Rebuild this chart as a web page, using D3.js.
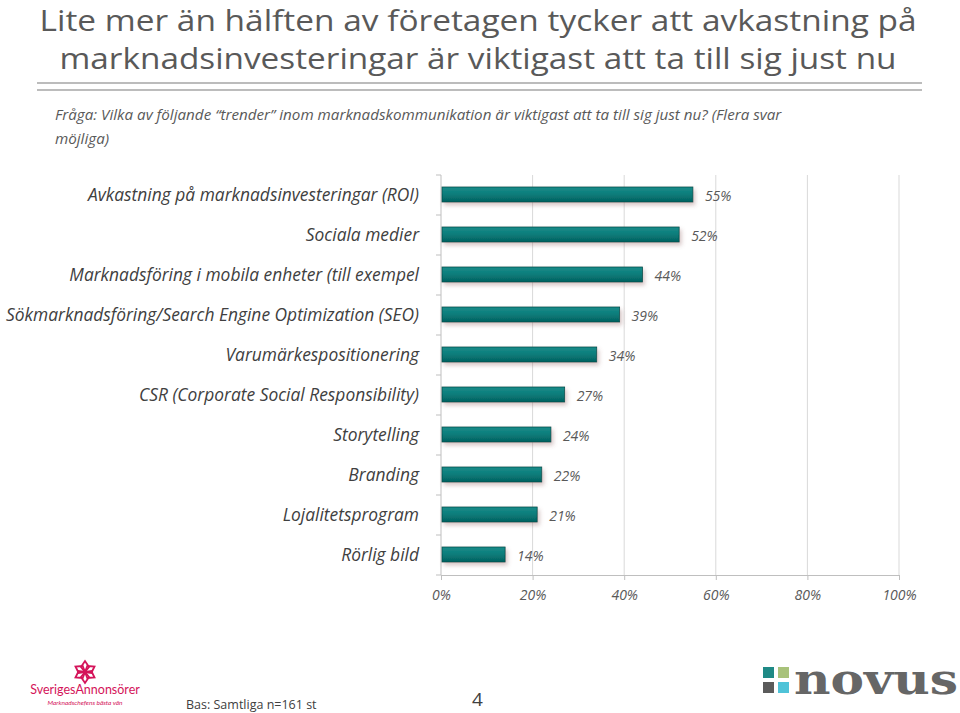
<!DOCTYPE html>
<html><head><meta charset="utf-8">
<script src="https://cdn.jsdelivr.net/npm/d3@7"></script>
<style>body{margin:0;background:#fff}svg{display:block}</style>
</head><body>
<svg id="c" width="960" height="713"></svg>
<script>
const categories = [
  "Avkastning på marknadsinvesteringar (ROI)",
  "Sociala medier",
  "Marknadsföring i mobila enheter (till exempel",
  "Sökmarknadsföring/Search Engine Optimization (SEO)",
  "Varumärkespositionering",
  "CSR (Corporate Social Responsibility)",
  "Storytelling",
  "Branding",
  "Lojalitetsprogram",
  "Rörlig bild"
];
const values = [55, 52, 44, 39, 34, 27, 24, 22, 21, 14];
const xTicks = [0, 20, 40, 60, 80, 100];
const titleLines = ["Lite mer än hälften av företagen tycker att avkastning på", "marknadsinvesteringar är viktigast att ta till sig just nu"];
const subtitleLines = ["Fråga: Vilka av följande “trender” inom marknadskommunikation är viktigast att ta till sig just nu? (Flera svar", "möjliga)"];

const svg = d3.select("#c");
const grey = "#595959";
const font = "'Open Sans', Lato, sans-serif";

// defs
const defs = svg.append("defs");
const g1 = defs.append("linearGradient").attr("id","barg").attr("x1",0).attr("y1",0).attr("x2",0).attr("y2",1);
g1.append("stop").attr("offset","0%").attr("stop-color","#1a8c8a");
g1.append("stop").attr("offset","50%").attr("stop-color","#0a7c7a");
g1.append("stop").attr("offset","100%").attr("stop-color","#03605e");
const f = defs.append("filter").attr("id","sh").attr("x","-10%").attr("y","-50%").attr("width","130%").attr("height","250%");
f.append("feGaussianBlur").attr("in","SourceAlpha").attr("stdDeviation",2);
f.append("feOffset").attr("dx",2).attr("dy",3).attr("result","b");
f.append("feFlood").attr("flood-color","#8a5a5a").attr("flood-opacity",0.35);
f.append("feComposite").attr("in2","b").attr("operator","in");
const fm = f.append("feMerge"); fm.append("feMergeNode"); fm.append("feMergeNode").attr("in","SourceGraphic");

// title
const titleW = [877, 837];
svg.selectAll("text.title").data(titleLines).join("text")
  .attr("x",478).attr("y",(d,i)=>31+i*38).attr("text-anchor","middle")
  .attr("font-family",font).attr("font-size",30).attr("fill",grey)
  .attr("textLength",(d,i)=>titleW[i]).attr("lengthAdjust","spacingAndGlyphs")
  .text(d=>d);
svg.append("line").attr("x1",37).attr("x2",922).attr("y1",83).attr("y2",83).attr("stroke","#a6a6a6").attr("stroke-width",1.5);
svg.append("line").attr("x1",37).attr("x2",922).attr("y1",90).attr("y2",90).attr("stroke","#a6a6a6").attr("stroke-width",1.5);

svg.selectAll("text.sub").data(subtitleLines).join("text")
  .attr("x",55).attr("y",(d,i)=>120+i*24)
  .attr("font-family",font).attr("font-style","italic").attr("font-size",15.2).attr("fill",grey)
  .text(d=>d);

// scales
const x = d3.scaleLinear().domain([0,100]).range([441,899]);
const yb = d3.scaleBand().domain(categories).range([175,575]);

// gridlines
svg.append("g").selectAll("line").data(xTicks.slice(1)).join("line")
  .attr("x1",d=>x(d)).attr("x2",d=>x(d)).attr("y1",175).attr("y2",575)
  .attr("stroke","#d9d9d9").attr("stroke-width",1);

// axes
const ax = svg.append("g").attr("transform","translate(0,575)")
  .call(d3.axisBottom(x).tickValues(xTicks).tickSize(5).tickFormat(d=>d+"%"));
ax.select(".domain").attr("stroke","#bfbfbf");
ax.selectAll(".tick line").attr("stroke","#bfbfbf");
ax.selectAll(".tick text").attr("font-family",font).attr("font-style","italic")
  .attr("font-size",14).attr("fill",grey).attr("dy","1.2em");

const ay = svg.append("g").attr("transform","translate(441,0)");
ay.append("line").attr("y1",175).attr("y2",575).attr("stroke","#bfbfbf");
ay.selectAll("line.t").data(categories.concat(["end"])).join("line")
  .attr("x1",-5).attr("x2",0)
  .attr("y1",(d,i)=>i<categories.length?yb(d):575).attr("y2",(d,i)=>i<categories.length?yb(d):575)
  .attr("stroke","#bfbfbf");

// labels
svg.append("g").selectAll("text").data(categories).join("text")
  .attr("x",419).attr("y",d=>yb(d)+yb.bandwidth()/2).attr("dy","0.36em").attr("text-anchor","end")
  .attr("font-family",font).attr("font-style","italic").attr("font-size",17.4).attr("fill","#404040")
  .text(d=>d);

// bars
svg.append("g").selectAll("rect").data(values).join("rect")
  .attr("x",x(0)+1).attr("y",(d,i)=>yb(categories[i])+yb.bandwidth()/2-8)
  .attr("width",d=>x(d)-x(0)-1).attr("height",15)
  .attr("fill","url(#barg)").attr("stroke","#02504e").attr("stroke-width",0.8)
  .attr("filter","url(#sh)");

svg.append("g").selectAll("text").data(values).join("text")
  .attr("x",d=>x(d)+12).attr("y",(d,i)=>yb(categories[i])+yb.bandwidth()/2+1).attr("dy","0.36em")
  .attr("font-family",font).attr("font-style","italic").attr("font-size",14).attr("fill",grey)
  .text(d=>d+"%");

// footer
svg.append("text").attr("x",186).attr("y",709).attr("font-family",font).attr("font-size",12.5).attr("fill","#404040").text("Bas: Samtliga n=161 st");
svg.append("text").attr("x",472).attr("y",706).attr("font-family",font).attr("font-size",19).attr("fill","#404040").text("4");

// SverigesAnnonsörer logo
const lg = svg.append("g").attr("transform","translate(85,672)");
const pink = "#d4145a";
for (let k=0;k<6;k++){
  lg.append("path").attr("d","M0,0 L4,-5 L0,-11 L-4,-5 Z").attr("fill","none").attr("stroke",pink).attr("stroke-width",1.8)
    .attr("transform","rotate("+(k*60)+")");
}
svg.append("text").attr("x",85).attr("y",694).attr("text-anchor","middle").attr("font-family","Lato, sans-serif").attr("font-size",12.5).attr("fill",pink).text("SverigesAnnonsörer");
svg.append("text").attr("x",85).attr("y",705).attr("text-anchor","middle").attr("font-family","Lato, sans-serif").attr("font-style","italic").attr("font-size",6.5).attr("fill",pink).text("Marknadschefens bästa vän");

// Novus logo
const sq = [["#1f8a86",763,667],["#a8c27a",778,667],["#5b5b5b",763,682],["#4fc3d8",778,682]];
svg.append("g").selectAll("rect").data(sq).join("rect")
  .attr("x",d=>d[1]).attr("y",d=>d[2]).attr("width",11).attr("height",11).attr("fill",d=>d[0]);
svg.append("text").attr("x",794).attr("y",694).attr("font-family","'DejaVu Serif', 'Liberation Serif', serif").attr("font-weight","bold")
  .attr("font-size",42).attr("fill","#666").attr("textLength",164).attr("lengthAdjust","spacingAndGlyphs").text("novus");
</script>
</body></html>
